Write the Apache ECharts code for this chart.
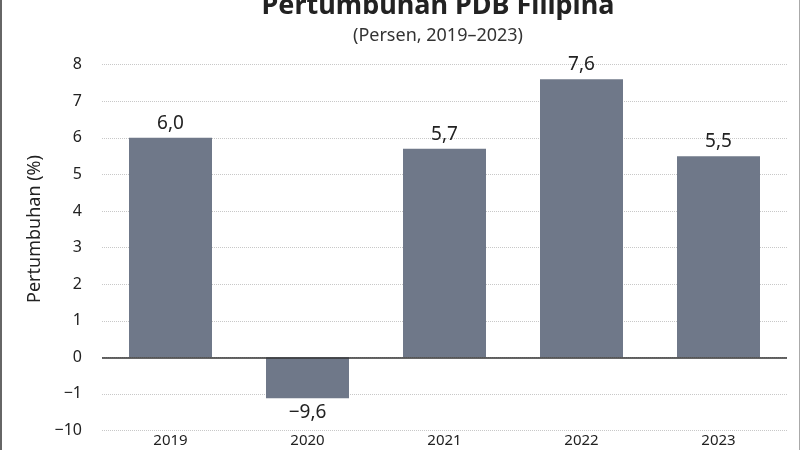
<!DOCTYPE html>
<html lang="id">
<head>
    <meta charset="UTF-8">
    <title>Pertumbuhan PDB Filipina</title>
    <style>
        html, body { margin: 0; padding: 0; background: #fff; }
        #wrap { width: 800px; height: 450px; box-sizing: border-box; border-left: 2px solid #666; border-right: 1px solid #aaa; }
        #main { width: 797px; height: 450px; }
    </style>
</head>
<body>
<div id="wrap"><div id="main"></div></div>
<script src="https://cdn.jsdelivr.net/npm/echarts@6/dist/echarts.min.js"></script>
<script type="text/javascript">
    // data
    var years = ["2019", "2020", "2021", "2022", "2023"];
    var growth = [6.0, -9.6, 5.7, 7.6, 5.5];          // nilai yang ditulis di label
    var barHeights = [6.0, -1.12, 5.7, 7.6, 5.5];     // tinggi batang pada sumbu (sumbu negatif dipatahkan)
    var yTickValues = [-2, -1, 0, 1, 2, 3, 4, 5, 6, 7, 8];
    var yTickLabels = ["\u221210", "\u22121", "0", "1", "2", "3", "4", "5", "6", "7", "8"];

    var font = "Noto Sans";

    function fmt(v) {
        var s = Math.abs(v).toFixed(1).replace(".", ",");
        return v < 0 ? "\u2212" + s : s;
    }

    var barData = barHeights.map(function (h, i) {
        return {
            value: h,
            label: {
                position: h < 0 ? "bottom" : "top",
                formatter: fmt(growth[i])
            }
        };
    });

    var myChart = echarts.init(document.getElementById("main"));

    var option = {
        backgroundColor: "#fff",
        textStyle: { fontFamily: font },
        title: [{
            text: "Pertumbuhan PDB Filipina",
            left: 431,
            textAlign: "center",
            top: -12,
            textStyle: { fontFamily: font, fontSize: 27, fontWeight: "bold", color: "#222" }
        }, {
            text: "(Persen, 2019\u20132023)",
            left: 431,
            textAlign: "center",
            top: 22,
            textStyle: { fontFamily: font, fontSize: 18, fontWeight: "normal", color: "#333" }
        }],
        graphic: [{
            type: "text",
            x: 33,
            y: 229,
            rotation: Math.PI / 2,
            style: {
                text: "Pertumbuhan (%)",
                font: "18px 'Noto Sans'",
                fill: "#222",
                align: "center",
                verticalAlign: "middle"
            }
        }],
        grid: { left: 100, right: 12, top: 64.7, bottom: 19.5 },
        xAxis: {
            type: "category",
            data: years,
            axisLine: { show: false, onZero: false },
            axisTick: { show: false },
            axisLabel: { margin: 3, fontSize: 15, color: "#222", fontFamily: font }
        },
        yAxis: {
            type: "value",
            min: -2,
            max: 8,
            interval: 1,
            axisLine: { show: false },
            axisTick: { show: false },
            axisLabel: {
                margin: 20,
                fontSize: 16,
                color: "#222",
                fontFamily: font,
                formatter: function (v) {
                    var i = yTickValues.indexOf(v);
                    return i < 0 ? "" : yTickLabels[i];
                }
            },
            splitLine: { lineStyle: { color: "#c8c8c8", type: "dotted", width: 1 } }
        },
        series: [{
            name: "Pertumbuhan",
            type: "bar",
            barWidth: 83,
            itemStyle: { color: "#6f7889" },
            label: {
                show: true,
                distance: 5,
                fontSize: 19,
                color: "#222",
                fontFamily: font
            },
            data: barData,
            markLine: {
                silent: true,
                symbol: "none",
                label: { show: false },
                lineStyle: { color: "#333", width: 1.5, type: "solid" },
                data: [{ yAxis: 0 }]
            }
        }]
    };

    myChart.setOption(option);
</script>
</body>
</html>
